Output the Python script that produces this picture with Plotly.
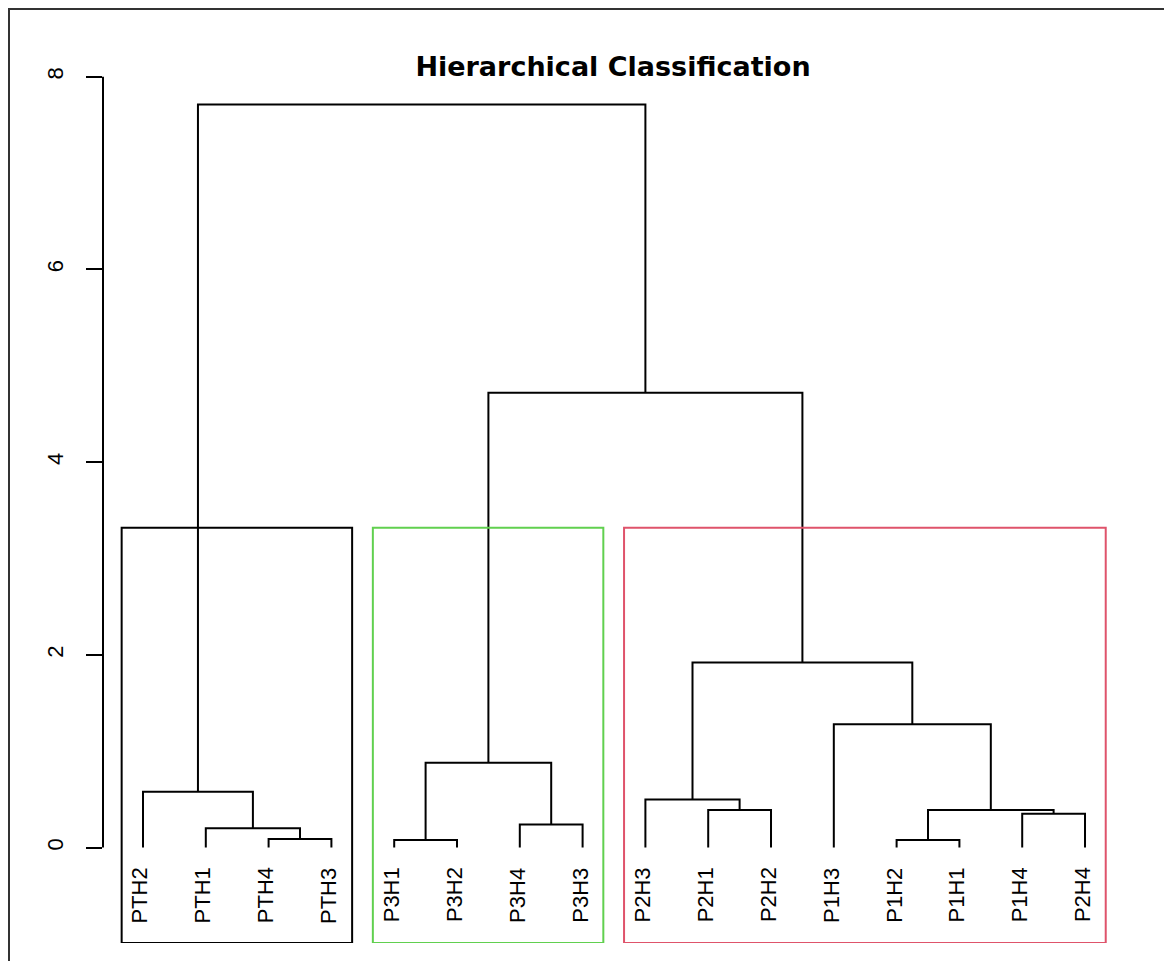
import plotly.graph_objects as go

# leaf labels in dendrogram order (left to right)
LEAVES = ["PTH2", "PTH1", "PTH4", "PTH3", "P3H1", "P3H2", "P3H4", "P3H3",
          "P2H3", "P2H1", "P2H2", "P1H3", "P1H2", "P1H1", "P1H4", "P2H4"]

# hclust-like merges: child is a leaf label or the (1-based) number of an earlier merge
MERGE_LEFT = ["PTH4", "PTH1", "PTH2", "P3H1", "P3H4", 4, "P2H1", "P2H3",
              "P1H2", "P1H4", 9, "P1H3", 8, 6, 3]
MERGE_RIGHT = ["PTH3", 1, 2, "P3H2", "P3H3", 5, "P2H2", 7,
               "P1H1", "P2H4", 10, 11, 12, 13, 14]
MERGE_HEIGHT = [0.09, 0.20, 0.58, 0.08, 0.24, 0.88, 0.39, 0.50,
                0.08, 0.35, 0.39, 1.28, 1.92, 4.72, 7.71]

Y_TICKS = [0, 2, 4, 6, 8]
K_CLUSTERS = 3
TITLE = "Hierarchical Classification"

BOX_COLORS = ["#000000", "#61D04F", "#DF536B"]
Y_RANGE = [-0.99, 8.1]
X_RANGE = [0.363, 16.605]

# page body adds an 8px offset, margins compensate
ML, MT, PW, PH = 95, 59, 1020, 876

leaf_x = {lab: i + 1 for i, lab in enumerate(LEAVES)}
node_x, node_h, node_leaves = [], [], []


def child_info(c):
    if isinstance(c, str):
        return leaf_x[c], 0.0, [c]
    return node_x[c - 1], node_h[c - 1], node_leaves[c - 1]


xs, ys = [], []
for a, b, h in zip(MERGE_LEFT, MERGE_RIGHT, MERGE_HEIGHT):
    xa, ha, la = child_info(a)
    xb, hb, lb = child_info(b)
    xs += [xa, xa, xb, xb, None]
    ys += [ha, h, h, hb, None]
    node_x.append((xa + xb) / 2)
    node_h.append(h)
    node_leaves.append(la + lb)

# cut tree into K clusters (like cutree / rect.hclust)
clusters = [len(MERGE_HEIGHT)]
while len(clusters) < K_CLUSTERS:
    top = max((c for c in clusters if not isinstance(c, str)), key=lambda c: node_h[c - 1])
    clusters.remove(top)
    clusters += [MERGE_LEFT[top - 1], MERGE_RIGHT[top - 1]]
groups = sorted([child_info(c)[2] for c in clusters], key=lambda g: min(leaf_x[l] for l in g))
hs = sorted(MERGE_HEIGHT, reverse=True)
cut_h = (hs[K_CLUSTERS - 2] + hs[K_CLUSTERS - 1]) / 2

fig = go.Figure()
fig.add_trace(go.Scatter(x=xs, y=ys, mode="lines", line=dict(color="black", width=2),
                         hoverinfo="skip", showlegend=False))

shapes = []
start = 0
for g, col in zip(groups, BOX_COLORS):
    end = start + len(g)
    shapes.append(dict(type="rect", xref="x", yref="y", x0=start + 0.66, x1=end + 0.33,
                       y0=Y_RANGE[0], y1=cut_h, line=dict(color=col, width=2)))
    start = end

# y axis line only between first and last tick (R style)
shapes.append(dict(type="line", xref="paper", yref="y", x0=0, x1=0,
                   y0=Y_TICKS[0], y1=Y_TICKS[-1], line=dict(color="black", width=2)))
# outer device border
shapes.append(dict(type="rect", xref="paper", yref="paper", x0=(1 - ML) / PW, x1=1.2,
                   y0=-0.2, y1=(MT + PH - 1) / PH, line=dict(color="#333333", width=2)))

annotations = []
for lab in LEAVES:
    annotations.append(dict(x=leaf_x[lab], y=0, xref="x", yref="y", text=lab, showarrow=False,
                            textangle=-90, xanchor="center", yanchor="top", yshift=-18, xshift=-3,
                            font=dict(family="Arial, Liberation Sans", size=22, color="black")))

fig.update_layout(
    width=1172, height=961,
    margin=dict(l=ML, r=1172 - ML - PW, t=MT, b=961 - MT - PH),
    paper_bgcolor="white", plot_bgcolor="white",
    title=dict(text=TITLE, x=0.5, xref="paper", y=1 - MT / 961, yref="container", yanchor="middle",
               font=dict(family="DejaVu Sans", size=27, color="black", weight="bold")),
    xaxis=dict(range=X_RANGE, visible=False),
    yaxis=dict(range=Y_RANGE, tickmode="array", tickvals=Y_TICKS, ticks="outside", ticklen=16,
               tickwidth=2, tickcolor="black", showgrid=False, zeroline=False, showline=False,
               tickangle=-90, ticklabelstandoff=14,
               tickfont=dict(family="Arial, Liberation Sans", size=22, color="black")),
    shapes=shapes,
    annotations=annotations,
)

fig.write_html("out.html")
